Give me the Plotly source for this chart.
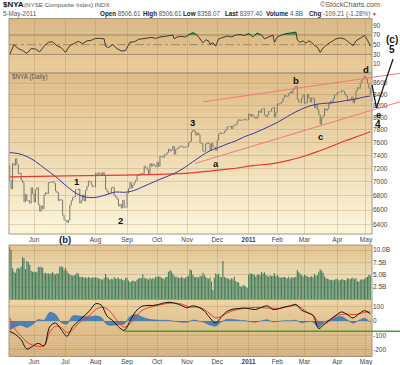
import math
import pandas as pd
import plotly.graph_objects as go

W, H = 400, 365
FONT = "Liberation Sans"

# ---------------- data ----------------
HOLIDAYS = ["2010-05-31", "2010-07-05", "2010-09-06", "2010-11-25",
            "2010-12-24", "2011-01-17", "2011-02-21", "2011-04-22"]
days = pd.bdate_range("2010-05-06", "2011-05-05")
days = days[~days.isin(pd.to_datetime(HOLIDAYS))]

MONTH_LABELS = ["Jun", "Jul", "Aug", "Sep", "Oct", "Nov", "Dec", "2011",
                "Feb", "Mar", "Apr", "May"]

PREV_CLOSE = 7240
CLOSE_2010_05 = [7020, 6900, 7272, 7247, 7346, 7257, 7121, 7129, 7027, 6991, 6719,
                 6820, 6732, 6734, 6696, 6916, 6831]
CLOSE_2010_06 = [6713, 6887, 6915, 6677, 6586, 6659, 6619, 6815, 6844, 6832, 6992,
                 6989, 6998, 7007, 6980, 6868, 6847, 6732, 6751, 6738, 6529, 6463]
CLOSE_2010_07 = [6462, 6432, 6466, 6669, 6732, 6780, 6785, 6890, 6889, 6897, 6698,
                 6738, 6815, 6728, 6879, 6936, 7013, 7006, 6958, 6929, 6929]
CLOSE_2010_08 = [7127, 7093, 7135, 7126, 7100, 7139, 7096, 6896, 6859, 6832, 6832,
                 6916, 6926, 6809, 6784, 6756, 6658, 6680, 6629, 6739, 6640, 6642]
CLOSE_2010_09 = [6838, 6900, 6992, 6911, 6956, 6989, 7023, 7102, 7097, 7122, 7119,
                 7125, 7233, 7215, 7180, 7120, 7271, 7230, 7265, 7246, 7224]
CLOSE_2010_10 = [7290, 7232, 7382, 7377, 7365, 7410, 7411, 7440, 7493, 7465, 7481,
                 7535, 7415, 7493, 7506, 7524, 7541, 7541, 7520, 7529, 7525]
CLOSE_2010_11 = [7533, 7591, 7619, 7766, 7796, 7780, 7717, 7751, 7718, 7591, 7582,
                 7459, 7461, 7575, 7594, 7582, 7474, 7586, 7529, 7519, 7473]
CLOSE_2010_12 = [7634, 7732, 7752, 7742, 7746, 7775, 7805, 7852, 7852, 7859, 7819,
                 7867, 7874, 7894, 7942, 7968, 7955, 7960, 7966, 7974, 7962, 7964]
CLOSE_2011_01 = [8064, 8028, 8055, 8025, 7998, 7987, 8029, 8114, 8088, 8147, 8159,
                 8050, 8014, 8047, 8106, 8109, 8156, 8174, 8015, 8090]
CLOSE_2011_02 = [8238, 8228, 8248, 8272, 8336, 8385, 8361, 8368, 8414, 8447, 8420,
                 8486, 8525, 8542, 8313, 8263, 8255, 8342, 8388]
CLOSE_2011_03 = [8243, 8256, 8398, 8336, 8267, 8341, 8329, 8172, 8230, 8141, 8050,
                 7893, 7999, 8033, 8154, 8125, 8149, 8238, 8277, 8254, 8326, 8394, 8393]
CLOSE_2011_04 = [8434, 8437, 8436, 8467, 8454, 8407, 8371, 8292, 8307, 8308, 8354,
                 8249, 8309, 8461, 8519, 8506, 8595, 8656, 8693, 8718]
CLOSE_2011_05 = [8665, 8590, 8506.61, 8397.40]

VOL_2010_05 = [10.7, 10.0, 6.3, 5.6, 5.4, 6.2, 6.4, 6.2, 6.6, 8.6, 8.3, 6.1, 7.8, 7.6,
               7.0, 5.8, 5.6]
VOL_2010_06 = [5.6, 5.5, 5.6, 6.6, 6.5, 6.6, 6.4, 5.3, 5.4, 5.2, 5.3, 5.1, 5.3, 5.5,
               5.2, 5.0, 5.3, 5.2, 6.6, 6.7, 6.5, 6.0]
VOL_2010_07 = [6.4, 5.8, 5.3, 5.0, 4.9, 4.8, 4.9, 5.0, 5.4, 5.2, 4.6, 4.5, 4.6, 4.4,
               4.5, 4.3, 4.6, 4.4, 4.3, 4.5, 4.4]
VOL_2010_08 = [4.5, 4.4, 4.3, 4.2, 4.1, 4.0, 4.4, 5.2, 4.5, 4.3, 4.0, 4.2, 4.1, 4.5,
               4.2, 4.3, 4.4, 4.1, 4.2, 4.0, 3.8, 4.3]
VOL_2010_09 = [4.4, 3.8, 3.5, 3.6, 3.8, 3.7, 3.6, 4.0, 4.2, 4.4, 4.3, 5.1, 4.4, 4.2,
               4.3, 4.0, 4.4, 4.1, 4.3, 4.2, 4.6]
VOL_2010_10 = [4.5, 4.7, 4.6, 4.4, 4.3, 4.1, 4.5, 4.6, 5.6, 5.9, 5.7, 5.2, 4.8, 4.5,
               4.6, 4.4, 4.3, 4.6, 4.4, 4.2, 4.5]
VOL_2010_11 = [4.6, 4.8, 6.1, 5.9, 5.0, 4.6, 4.5, 4.6, 4.4, 4.8, 4.7, 5.4, 5.0, 4.6,
               4.3, 4.2, 4.5, 3.6, 1.9, 4.4, 5.3]
VOL_2010_12 = [5.0, 5.2, 4.6, 4.5, 7.8, 4.6, 4.4, 4.3, 4.2, 4.0, 4.3, 4.1, 4.6, 3.7,
               3.5, 3.4, 2.7, 2.5, 2.9, 2.8, 2.6, 2.3]
VOL_2011_01 = [5.0, 5.3, 5.2, 5.1, 5.0, 4.6, 5.0, 5.1, 4.9, 5.6, 5.2, 5.5, 5.0, 4.8,
               4.6, 4.9, 4.7, 4.8, 5.3, 4.7]
VOL_2011_02 = [5.0, 4.6, 4.5, 4.4, 4.5, 4.6, 4.4, 4.3, 4.6, 4.2, 4.5, 4.4, 4.5, 4.6,
               5.9, 5.5, 5.2, 4.9, 4.6]
VOL_2011_03 = [5.0, 4.8, 4.7, 4.5, 4.6, 4.7, 4.5, 5.2, 4.8, 4.9, 5.6, 6.1, 5.8, 5.4,
               4.7, 4.3, 4.2, 4.1, 3.9, 4.0, 3.8, 4.0, 4.1]
VOL_2011_04 = [4.2, 3.8, 3.9, 4.1, 4.0, 3.9, 3.8, 4.3, 4.2, 4.1, 4.3, 4.4, 4.1, 4.3,
               3.7, 3.5, 4.0, 4.1, 4.0, 4.2]
VOL_2011_05 = [4.4, 4.6, 5.0, 4.8]

# 50-day (blue) and 200-day (red) moving averages, read at sample days
MA50_IDX = [0, 6, 12, 18, 25, 32, 38, 44, 50, 56, 62, 68, 74, 80, 86, 92, 98, 104,
            110, 116, 122, 128, 134, 140, 146, 152, 158, 164, 170, 176, 182, 188,
            194, 200, 206, 212, 218, 224, 230, 236, 242, 248, 252]
MA50_VAL = [7440, 7425, 7380, 7305, 7190, 7080, 6970, 6870, 6800, 6775, 6785, 6820,
            6855, 6850, 6870, 6920, 6975, 7030, 7080, 7135, 7210, 7300, 7390, 7470,
            7520, 7575, 7625, 7690, 7740, 7800, 7865, 7935, 8020, 8100, 8165, 8215,
            8240, 8250, 8270, 8295, 8320, 8355, 8370]
MA200_IDX = [0, 40, 80, 110, 125, 140, 155, 170, 185, 195, 205, 215, 225, 235, 245, 252]
MA200_VAL = [7075, 7090, 7100, 7115, 7130, 7160, 7195, 7240, 7275, 7320, 7380, 7455,
             7540, 7630, 7710, 7770]

RSI_IDX = [0, 3, 6, 9, 12, 15, 18, 21, 24, 27, 30, 33, 36, 39, 42, 45, 48, 51, 54, 57,
           60, 63, 66, 67, 69, 72, 75, 78, 81, 84, 87, 90, 93, 96, 99, 102, 105, 108,
           111, 114, 115, 117, 120, 123, 126, 128, 130, 132, 135, 137, 139, 140, 142,
           144, 146, 149, 152, 155, 158, 161, 164, 167, 170, 173, 176, 178, 181, 184,
           185, 187, 190, 193, 196, 199, 200, 201, 203, 205, 207, 209, 211, 213, 215,
           217, 219, 222, 225, 228, 231, 234, 237, 240, 242, 245, 248, 250, 251, 252]
RSI_VAL = [30, 50, 42, 38, 32, 42, 41, 35, 47, 55, 56, 48, 44, 34, 48, 53, 57, 52, 58,
           59, 63, 63, 62, 47, 44, 50, 42, 37, 38, 55, 56, 61, 62, 64, 65, 63, 66, 67,
           69, 70, 62, 66, 67, 66, 72, 75, 72, 66, 54, 60, 58, 51, 54, 47, 62, 65, 68,
           66, 70, 71, 69, 73, 66, 74, 70, 62, 66, 70, 55, 66, 70, 73, 74, 75, 76, 60,
           55, 58, 53, 58, 55, 48, 45, 34, 43, 51, 56, 62, 64, 62, 55, 48, 58, 64, 69,
           60, 54, 47]
RSI_OVERBOUGHT = 70

OSC_IDX = list(range(0, 253, 4))
OSC_LINE = [-72, -93, -130, -195, -175, -155, -172, -40, -14, -60, -106, -40, -2, 35,
            72, 120, 110, 35, 3, -40, -65, -2, 65, 100, 108, 108, 115, 126, 130, 122,
            108, 92, 105, 95, 70, 21, -14, 30, 67, 82, 87, 90, 84, 80, 95, 105, 80, 85,
            97, 105, 115, 75, 58, 38, -52, -20, 10, 40, 63, 44, 21, 50, 72, 50]
OSC_SIGNAL = [21, -60, -105, -145, -168, -176, -172, -78, -37, -45, -80, -62, -18, 15,
              40, 80, 95, 85, 45, -10, -42, -20, 25, 70, 90, 100, 110, 118, 124, 124,
              118, 103, 96, 96, 80, 50, 22, 33, 55, 72, 80, 88, 92, 95, 93, 90, 89, 87,
              95, 103, 108, 90, 60, 40, -10, -20, 5, 35, 45, 48, 44, 48, 60, 63]
OSC_HIST = [-65, -40, -30, -45, -25, 10, 5, 60, 45, -10, -20, 35, 35, 30, 30, 35, 25,
            -25, -30, -25, -20, 30, 45, 30, 15, 8, 5, 5, 4, -3, -8, -8, 6, 0, -10, -28,
            -35, -5, 12, 10, 6, 3, -5, -8, 2, 8, -6, -2, 2, 2, 5, -12, -5, -8, -42, -5,
            8, 25, 30, 8, -15, 5, 18, -8]
OSC_SUPPORT = -72          # hand-drawn green line level
SUPPORT_FROM_IDX = 80

# hand-drawn annotation lines (day index, price)
TREND_UPPER = [(135.3, 8270), (272.7, 8775)]
TREND_MID = [(129.5, 7275), (272.7, 8270)]
WAVE_PATH = [(253.2, 8565), (256.3, 8170), (267.9, 9040)]

SYMBOL, NAME = "$NYA", "(NYSE Composite Index) INDX"
DATE = "5-May-2011"
Q_OPEN, Q_HIGH, Q_LOW, Q_LAST, Q_VOL, Q_CHG = ("8506.61", "8506.61", "8358.07",
                                                 "8397.40", "4.8B", "-109.21 (-1.28%)")

close = (CLOSE_2010_05 + CLOSE_2010_06 + CLOSE_2010_07 + CLOSE_2010_08 + CLOSE_2010_09
         + CLOSE_2010_10 + CLOSE_2010_11 + CLOSE_2010_12 + CLOSE_2011_01 + CLOSE_2011_02
         + CLOSE_2011_03 + CLOSE_2011_04 + CLOSE_2011_05)
volume = (VOL_2010_05 + VOL_2010_06 + VOL_2010_07 + VOL_2010_08 + VOL_2010_09
          + VOL_2010_10 + VOL_2010_11 + VOL_2010_12 + VOL_2011_01 + VOL_2011_02
          + VOL_2011_03 + VOL_2011_04 + VOL_2011_05)
n = len(close)
xs = list(range(n))
opens = [PREV_CLOSE] + close[:-1]
highs = [max(o, c) for o, c in zip(opens, close)]
lows = [min(o, c) for o, c in zip(opens, close)]

month_first, seen = [], set()
for i, d in enumerate(days[:n]):
    k = (d.year, d.month)
    if k not in seen:
        seen.add(k)
        month_first.append(i)
month_first = month_first[1:1 + len(MONTH_LABELS)]

# ---------------- layout geometry ----------------
def pyp(px):
    return 1 - px / H

XD = (9 / W, 372 / W)
XR = (-0.49, 253.2)
RSI_D = (pyp(73), pyp(18.5))
PR_D = (pyp(234), pyp(73))
VOL_D = (pyp(299.5), pyp(245))
OSC_D = (pyp(356.5), pyp(299.5))
PR_LOG = (math.log10(6281), math.log10(8781))
RSI_R = (-8.6, 104.2)
VOL_R = (-0.04, 11.04)
OSC_R = (-246.5, 149.3)


def paper_x(i):
    return XD[0] + (i - XR[0]) / (XR[1] - XR[0]) * (XD[1] - XD[0])


def paper_y_price(p):
    return PR_D[0] + (math.log10(p) - PR_LOG[0]) / (PR_LOG[1] - PR_LOG[0]) * (PR_D[1] - PR_D[0])


def paper_y_osc(v):
    return OSC_D[0] + (v - OSC_R[0]) / (OSC_R[1] - OSC_R[0]) * (OSC_D[1] - OSC_D[0])


GRID = "rgba(160,130,90,0.28)"
TICKF = dict(family=FONT, size=6.5, color="#444")

fig = go.Figure()

# RSI (green shading where above the overbought level)
fig.add_trace(go.Scatter(x=RSI_IDX, y=[RSI_OVERBOUGHT] * len(RSI_IDX), mode="lines",
                         xaxis="x", yaxis="y", line=dict(width=0), hoverinfo="skip"))
fig.add_trace(go.Scatter(x=RSI_IDX, y=[max(v, RSI_OVERBOUGHT) for v in RSI_VAL],
                         mode="lines", xaxis="x", yaxis="y", fill="tonexty",
                         fillcolor="rgba(40,150,60,0.8)", line=dict(width=0),
                         hoverinfo="skip"))
fig.add_trace(go.Scatter(x=RSI_IDX, y=RSI_VAL, mode="lines", xaxis="x", yaxis="y",
                         line=dict(color="#2b2b2b", width=0.9), hoverinfo="skip"))
# Price
fig.add_trace(go.Ohlc(x=xs, open=opens, high=highs, low=lows, close=close,
                      xaxis="x2", yaxis="y2",
                      increasing=dict(line=dict(color="#77776f", width=1)),
                      decreasing=dict(line=dict(color="#77776f", width=1)),
                      tickwidth=0.3, hoverinfo="skip"))
fig.add_trace(go.Scatter(x=MA200_IDX, y=MA200_VAL, mode="lines", xaxis="x2", yaxis="y2",
                         line=dict(color="#e8392f", width=1.2, shape="spline"), hoverinfo="skip"))
fig.add_trace(go.Scatter(x=MA50_IDX, y=MA50_VAL, mode="lines", xaxis="x2", yaxis="y2",
                         line=dict(color="#3b3b9c", width=1, shape="spline"), hoverinfo="skip"))
# Volume
fig.add_trace(go.Bar(x=xs, y=volume, xaxis="x3", yaxis="y3", width=0.8,
                     marker=dict(color="#467f5f", line=dict(width=0)), hoverinfo="skip"))
# Oscillator
fig.add_trace(go.Scatter(x=OSC_IDX, y=OSC_HIST, mode="lines", xaxis="x4", yaxis="y4",
                         fill="tozeroy", fillcolor="rgba(46,120,190,0.85)",
                         line=dict(color="#2a6aa8", width=0.5, shape="spline"), hoverinfo="skip"))
fig.add_trace(go.Scatter(x=OSC_IDX, y=OSC_SIGNAL, mode="lines", xaxis="x4", yaxis="y4",
                         line=dict(color="#f03a2a", width=1, shape="spline"), hoverinfo="skip"))
fig.add_trace(go.Scatter(x=OSC_IDX, y=OSC_LINE, mode="lines", xaxis="x4", yaxis="y4",
                         line=dict(color="#111111", width=1, shape="spline"), hoverinfo="skip"))


def xaxis(anchor, labels, text, standoff=0):
    return dict(domain=list(XD), range=list(XR), anchor=anchor, tickmode="array",
                tickvals=month_first, ticktext=text, showticklabels=labels,
                showgrid=True, gridcolor=GRID, gridwidth=1, zeroline=False,
                showline=False, ticks="", tickfont=TICKF, fixedrange=True,
                ticklabelstandoff=standoff, rangeslider=dict(visible=False))


bottom_text = [("<b>%s</b>" % t if t.isdigit() else t) for t in MONTH_LABELS]
price_text = [("" if t == "Jul" else t) for t in bottom_text]


def yaxis(anchor, dom, rng, vals, text, typ="linear"):
    return dict(domain=list(dom), range=list(rng), anchor=anchor, side="right",
                type=typ, tickmode="array", tickvals=vals, ticktext=text,
                showgrid=True, gridcolor=GRID, gridwidth=1, zeroline=False,
                showline=False, ticks="", tickfont=TICKF, fixedrange=True)


price_ticks = list(range(6400, 8801, 200))
fig.update_layout(
    width=W, height=H, margin=dict(l=0, r=0, t=0, b=0), autosize=False,
    paper_bgcolor="white", plot_bgcolor="rgba(0,0,0,0)", showlegend=False,
    font=dict(family=FONT),
    xaxis=xaxis("y", False, bottom_text),
    xaxis2=xaxis("y2", True, price_text),
    xaxis3=xaxis("y3", False, bottom_text),
    xaxis4=xaxis("y4", True, bottom_text),
    yaxis=yaxis("x", RSI_D, RSI_R, [10, 30, 50, 70, 90], ["10", "30", "50", "70", "90"]),
    yaxis2=yaxis("x2", PR_D, PR_LOG, price_ticks, [str(v) for v in price_ticks], "log"),
    yaxis3=yaxis("x3", VOL_D, VOL_R, [2.5, 5, 7.5, 10], ["2.5B", "5.0B", "7.5B", "10.0B"]),
    yaxis4=yaxis("x4", OSC_D, OSC_R, [-200, -100, 0, 100], ["-200", "-100", "0", "100"]),
)
fig.update_yaxes(showgrid=False, selector=dict(anchor="x"))

shapes = []


def hexrgb(h):
    h = h.lstrip("#")
    return tuple(int(h[i:i + 2], 16) for i in (0, 2, 4))


def gradient(y0px, y1px, ctop, cbot, nb=28):
    a, b = hexrgb(ctop), hexrgb(cbot)
    step = (y1px - y0px) / nb
    for k in range(nb):
        t = k / (nb - 1)
        c = tuple(round(a[j] + (b[j] - a[j]) * t) for j in range(3))
        shapes.append(dict(type="rect", xref="paper", yref="paper", layer="below",
                           x0=XD[0], x1=XD[1], y0=pyp(y0px + (k + 1) * step + 0.3),
                           y1=pyp(y0px + k * step), line=dict(width=0),
                           fillcolor="rgb(%d,%d,%d)" % c))


gradient(18.5, 73, "#dab47c", "#e8cb98")
gradient(73, 234, "#e0bc86", "#fbf5d9")
gradient(245, 299.5, "#e2c592", "#f2e4bd")
gradient(299.5, 356.5, "#ebd2a2", "#d6ad76")

# panel borders
for (a, b) in [(18.5, 73), (73, 234), (245, 299.5), (299.5, 356.5)]:
    shapes.append(dict(type="rect", xref="paper", yref="paper", layer="above",
                       x0=XD[0], x1=XD[1], y0=pyp(b), y1=pyp(a),
                       line=dict(color="#a8967a", width=1), fillcolor="rgba(0,0,0,0)"))

# RSI guide lines
for lvl, dash in [(70, "solid"), (30, "solid"), (50, "dashdot")]:
    yv = RSI_D[0] + (lvl - RSI_R[0]) / (RSI_R[1] - RSI_R[0]) * (RSI_D[1] - RSI_D[0])
    shapes.append(dict(type="line", xref="paper", yref="paper", layer="below",
                       x0=XD[0], x1=XD[1], y0=yv, y1=yv,
                       line=dict(color="#9b8a6e", width=1, dash=dash)))

# hand-drawn trend lines and wave path
for pts, col, wd in [(TREND_UPPER, "#f07a78", 1), (TREND_MID, "#f07a78", 1),
                     (WAVE_PATH, "#111111", 1.2)]:
    for (i0, p0), (i1, p1) in zip(pts[:-1], pts[1:]):
        shapes.append(dict(type="line", xref="paper", yref="paper", layer="above",
                           x0=paper_x(i0), y0=paper_y_price(p0),
                           x1=paper_x(i1), y1=paper_y_price(p1),
                           line=dict(color=col, width=wd)))
shapes.append(dict(type="line", xref="paper", yref="paper", layer="above",
                   x0=paper_x(SUPPORT_FROM_IDX), x1=1.0,
                   y0=paper_y_osc(OSC_SUPPORT), y1=paper_y_osc(OSC_SUPPORT),
                   line=dict(color="#3aa53a", width=1.5)))
fig.update_layout(shapes=shapes)

ann = []


def txt(xpx, ypx, text, size=6.5, color="#555", xanchor="left"):
    ann.append(dict(xref="paper", yref="paper", x=xpx / W, y=pyp(ypx), text=text,
                    showarrow=False, xanchor=xanchor, yanchor="middle",
                    font=dict(family=FONT, size=size, color=color), borderpad=0))


txt(1.5, 4.5, "<b>%s</b>" % SYMBOL, 8, "#111")
txt(23, 4.8, NAME, 6.2, "#555")
txt(381, 4.8, "©StockCharts.com", 7.2, "#555", "right")
txt(1.5, 13.5, DATE, 6.3, "#555")
for xpx, lab, val in [(98.5, "Open", Q_OPEN), (141.5, "High", Q_HIGH), (181.5, "Low", Q_LOW),
                      (223.5, "Last", Q_LAST), (264.5, "Volume", Q_VOL), (307.5, "Chg", Q_CHG)]:
    txt(xpx, 13.5, "<b><span style='color:#222'>%s</span></b> %s" % (lab, val), 6.3, "#555")
txt(371, 13.5, "▼", 5, "#d42020")
txt(11, 77.5, "$NYA (Daily)", 6.3, "#555")

for t, xpx, ypx, sz in [("1", 76.7, 181.7, 9.5), ("2", 120.7, 220.7, 9.5), ("3", 192.7, 122.7, 9.5),
                        ("a", 215.7, 164, 9.5), ("b", 296, 80.5, 9.5), ("c", 320.7, 136, 9.5),
                        ("d", 366, 69.5, 9.5), ("e", 378.3, 114.3, 9.5), ("4", 377.7, 124.5, 10),
                        ("(c)", 392.3, 39.5, 10), ("5", 392.3, 49.5, 10), ("(b)", 65, 239, 9.5)]:
    txt(xpx, ypx, "<b>%s</b>" % t, sz, "#111" if t != "(b)" else "#10204a", "center")
fig.update_layout(annotations=ann)

fig.write_html("out.html", config={"displayModeBar": False, "staticPlot": True},
               post_script="document.body.style.margin='0';")
